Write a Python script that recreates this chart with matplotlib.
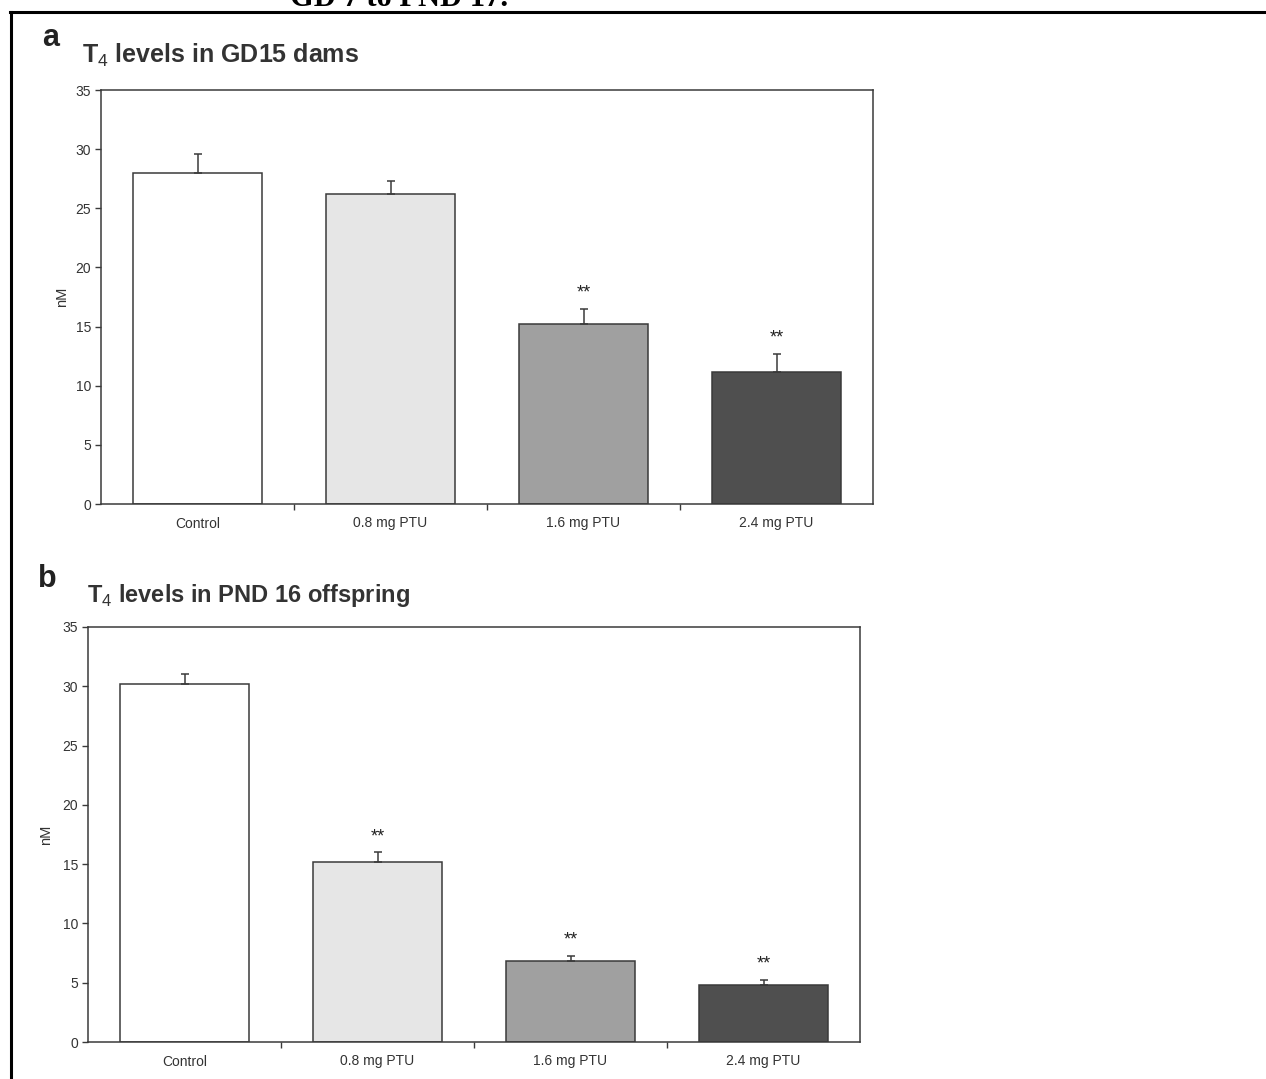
import matplotlib
matplotlib.use("Agg")
import matplotlib.pyplot as plt
from matplotlib.lines import Line2D

plt.rcParams["font.family"] = ["Liberation Sans", "DejaVu Sans"]
plt.rcParams["mathtext.fontset"] = "custom"
plt.rcParams["mathtext.rm"] = "Liberation Sans"
plt.rcParams["mathtext.bf"] = "Liberation Sans:bold"

# Data
groups = ["Control", "0.8 mg PTU", "1.6 mg PTU", "2.4 mg PTU"]
dams_t4 = [28.0, 26.2, 15.2, 11.2]
dams_sem = [1.6, 1.1, 1.3, 1.5]
dams_sig = ["", "", "**", "**"]
pups_t4 = [30.2, 15.2, 6.8, 4.8]
pups_sem = [0.8, 0.8, 0.45, 0.45]
pups_sig = ["", "**", "**", "**"]
yticks = [0, 5, 10, 15, 20, 25, 30, 35]

bar_colors = ["#ffffff", "#e6e6e6", "#a0a0a0", "#4f4f4f"]
line_col = "#3a3a3a"
text_col = "#333333"

fig = plt.figure(figsize=(12.66, 10.79), dpi=100)
W, H = 1266, 1079


def px_axes(left, top, right, bottom):
    return fig.add_axes([left / W, 1 - bottom / H, (right - left) / W, (bottom - top) / H])


def draw_panel(ax, values, errs, sig, ylabel_pad):
    x = list(range(len(groups)))
    ax.bar(x, values, width=0.67, color=bar_colors, edgecolor=line_col,
           linewidth=1.1, zorder=2)
    ax.errorbar(x, values, yerr=[[0] * len(errs), errs], fmt="none",
                ecolor=line_col, elinewidth=1.1, capsize=3, capthick=1.1, zorder=3)
    for xi, v, e, s in zip(x, values, errs, sig):
        if s:
            ax.text(xi, v + e + 0.6, s, ha="center", va="bottom", fontsize=13,
                    color="#222222")
    ax.set_xlim(-0.5, 3.5)
    ax.set_ylim(0, 35)
    ax.set_yticks(yticks)
    ax.set_yticklabels([str(t) for t in yticks], fontsize=10, color=text_col)
    ax.set_xticks(x)
    ax.set_xticklabels(groups, fontsize=10, color=text_col)
    ax.tick_params(axis="x", length=0, pad=9)
    ax.set_xticks([0.5, 1.5, 2.5], minor=True)
    ax.tick_params(axis="x", which="minor", length=4, width=1, color=line_col)
    ax.tick_params(axis="y", length=4, width=1, color=line_col, pad=3)
    for sp in ax.spines.values():
        sp.set_color(line_col)
        sp.set_linewidth(1.1)
    ax.set_ylabel("nM", fontsize=10.5, color=text_col, labelpad=ylabel_pad)


ax_a = px_axes(101, 90, 873, 504)
draw_panel(ax_a, dams_t4, dams_sem, dams_sig, ylabel_pad=5)

ax_b = px_axes(88, 627, 860, 1042)
draw_panel(ax_b, pups_t4, pups_sem, pups_sig, ylabel_pad=7)

# Panel letters and titles
fig.text(42 / W, 1 - 46 / H, "a", fontsize=22, fontweight="bold", color="#222222")
fig.text(82 / W, 1 - 63 / H, r"T$_4$ levels in GD15 dams", fontsize=18,
         fontweight="bold", color=text_col)
fig.text(38 / W, 1 - 587 / H, "b", fontsize=22, fontweight="bold", color="#222222")
fig.text(87 / W, 1 - 602 / H, r"T$_4$ levels in PND 16 offspring", fontsize=17,
         fontweight="bold", color=text_col)

# Heading above the frame (its upper part runs past the top edge)
fig.text(290 / W, 1 - 6 / H, "GD 7 to PND 17.", fontsize=22, fontweight="bold",
         family="Liberation Serif", color="black", va="baseline")

# Page frame lines
fig.add_artist(Line2D([10 / W, 1.0], [1 - 12 / H, 1 - 12 / H], color="black",
                      linewidth=2.2, transform=fig.transFigure))
fig.add_artist(Line2D([11 / W, 11 / W], [1 - 12 / H, 0], color="black",
                      linewidth=2.2, transform=fig.transFigure))

fig.savefig("out.png", dpi=100, facecolor="white")
